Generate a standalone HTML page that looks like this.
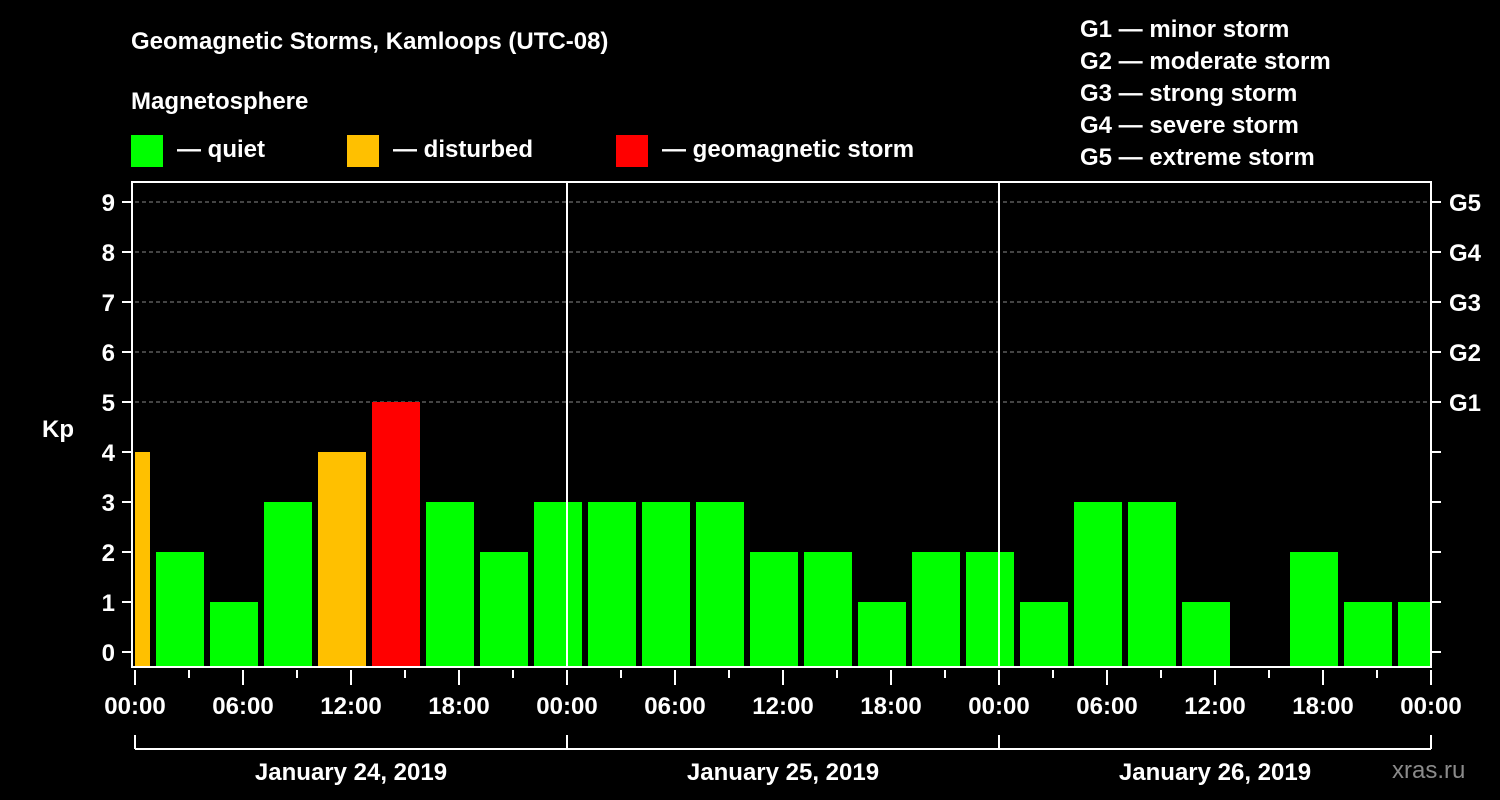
<!DOCTYPE html>
<html><head><meta charset="utf-8"><style>
body{margin:0;background:#000;width:1500px;height:800px;overflow:hidden}
svg{display:block}
text{font-family:"Liberation Sans",sans-serif;font-weight:bold;fill:#fff}
</style></head><body>
<svg id="chart" width="1500" height="800" xmlns="http://www.w3.org/2000/svg">
<text x="131" y="49" font-size="24">Geomagnetic Storms, Kamloops (UTC-08)</text>
<text x="131" y="109" font-size="24">Magnetosphere</text>
<g><rect x="131" y="135" width="32" height="32" fill="#00ff00"/><text x="177" y="157" font-size="24">— quiet</text></g>
<g><rect x="347" y="135" width="32" height="32" fill="#ffc000"/><text x="393" y="157" font-size="24">— disturbed</text></g>
<g><rect x="616" y="135" width="32" height="32" fill="#ff0000"/><text x="662" y="157" font-size="24">— geomagnetic storm</text></g>
<g font-size="24">
<text x="1080" y="37">G1 — minor storm</text>
<text x="1080" y="69">G2 — moderate storm</text>
<text x="1080" y="101">G3 — strong storm</text>
<text x="1080" y="133">G4 — severe storm</text>
<text x="1080" y="165">G5 — extreme storm</text>
</g>
<text x="42" y="437" font-size="24">Kp</text>
<text x="1392" y="778" font-size="24" fill="#888" style="fill:#8a8a8a;font-weight:normal">xras.ru</text>
<g id="plot"></g>
</svg>
<script>
const hours = [-0.5,2.5,5.5,8.5,11.5,14.5,17.5,20.5,23.5,26.5,29.5,32.5,35.5,38.5,41.5,44.5,47.5,50.5,53.5,56.5,59.5,62.5,65.5,68.5,71.5];
const kp = [4,2,1,3,4,5,3,2,3,3,3,3,2,2,1,2,2,1,3,3,1,null,2,1,1];
const yTicks = [0,1,2,3,4,5,6,7,8,9];
const gLabels = ["G1","G2","G3","G4","G5"];
const xLabels = ["00:00","06:00","12:00","18:00","00:00","06:00","12:00","18:00","00:00","06:00","12:00","18:00","00:00"];
const dates = ["January 24, 2019","January 25, 2019","January 26, 2019"];
const NS="http://www.w3.org/2000/svg";
const L=135,R=1431,T=182,B=667;
const X=h=>L+h*18;
const Y=v=>652-v*50;
const g=document.getElementById('plot');
function mk(tag,attrs,parent){const e=document.createElementNS(NS,tag);for(const k in attrs)e.setAttribute(k,attrs[k]);(parent||g).appendChild(e);return e;}
// grid
for(let v=5;v<=9;v++){const e=mk('line',{x1:L,x2:R,y1:Y(v),y2:Y(v),stroke:'#888','stroke-dasharray':'4,3','stroke-width':1});

}
// bars
const clip=mk('clipPath',{id:'pc'});mk('rect',{x:L,y:T,width:R-L,height:B-T},clip);
hours.forEach((h,i)=>{const v=kp[i];if(v===null)return;
const col=v>=5?'#ff0000':(v>=4?'#ffc000':'#00ff00');
const b=mk('rect',{x:X(h-1.5)+3,y:Y(v),width:48,height:B-Y(v),fill:col,'clip-path':'url(#pc)'});

});
// day separators
[24,48].forEach(h=>{const e=mk('line',{x1:X(h),x2:X(h),y1:T,y2:B,stroke:'#fff','stroke-width':2});

});
// frame
const f=mk('rect',{x:L-3,y:T,width:R-L+3,height:B-T,fill:'none',stroke:'#fff','stroke-width':2});


// y ticks
yTicks.forEach(v=>{mk('line',{x1:L-13,x2:L-3,y1:Y(v),y2:Y(v),stroke:'#fff','stroke-width':2});
mk('line',{x1:R,x2:R+10,y1:Y(v),y2:Y(v),stroke:'#fff','stroke-width':2});
const t=mk('text',{x:L-20,y:Y(v)+9,'font-size':24,'text-anchor':'end'});t.textContent=v;

});
gLabels.forEach((s,i)=>{const t=mk('text',{x:R+18,y:Y(5+i)+9,'font-size':24});t.textContent=s;

});
// x ticks
for(let h=0;h<=72;h+=3){const major=h%6===0;mk('line',{x1:X(h),x2:X(h),y1:670,y2:major?685:678,stroke:'#fff','stroke-width':2});}
xLabels.forEach((s,i)=>{const t=mk('text',{x:X(i*6),y:714,'font-size':24,'text-anchor':'middle'});t.textContent=s;

});
// date brackets
mk('line',{x1:X(0),x2:X(72),y1:749,y2:749,stroke:'#fff','stroke-width':2});
[0,24,48,72].forEach(h=>mk('line',{x1:X(h),x2:X(h),y1:735,y2:749,stroke:'#fff','stroke-width':2}));
dates.forEach((s,i)=>{const t=mk('text',{x:X(i*24+12),y:780,'font-size':24,'text-anchor':'middle'});t.textContent=s;

});
</script>
</body></html>
